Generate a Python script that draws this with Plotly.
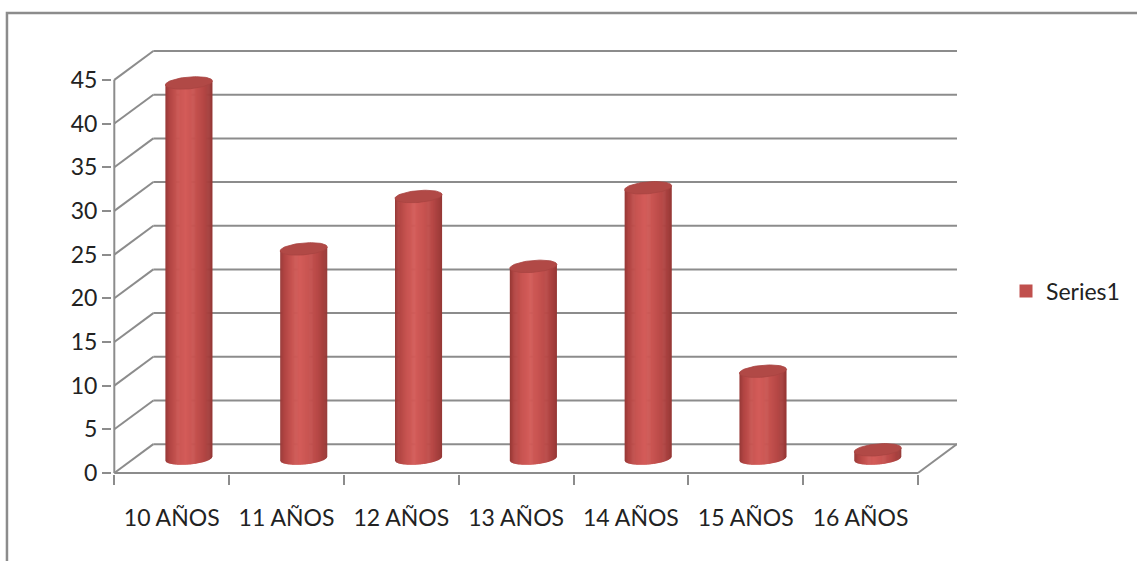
import numpy as np
import plotly.graph_objects as go

# ---- data ----
categories = ["10 AÑOS", "11 AÑOS", "12 AÑOS", "13 AÑOS", "14 AÑOS", "15 AÑOS", "16 AÑOS"]
values = [43, 24, 30, 22, 31, 10, 1]
y_ticks = [0, 5, 10, 15, 20, 25, 30, 35, 40, 45]
series_name = "Series1"

# ---- style ----
FONT = "Lato"
GRAY = "#8c8c8c"
DX, DY = 0.34, 3.30          # depth offset of back wall (x in categories, y in value units)
CDX = 0.15                   # cylinder depth shift along x
HW = 0.205                   # cylinder half width (category units)
EH = 0.68                    # ellipse half height (value units)
SH = 0.22                    # slight perspective tilt of ellipses
STOPS = [(0.0, (150, 56, 54)), (0.08, (176, 68, 66)), (0.25, (200, 84, 81)),
         (0.42, (211, 92, 89)), (0.6, (200, 84, 81)), (0.8, (183, 72, 70)),
         (0.93, (163, 62, 60)), (1.0, (148, 55, 53))]
TOP_COLOR = "#b14946"


def shade(u):
    for (u0, c0), (u1, c1) in zip(STOPS[:-1], STOPS[1:]):
        if u0 <= u <= u1:
            f = (u - u0) / (u1 - u0)
            r, g, b = [round(a + (b_ - a) * f) for a, b_ in zip(c0, c1)]
            return f"rgb({r},{g},{b})"
    return "rgb(192,80,77)"


n = len(categories)
ymax = max(y_ticks)
fig = go.Figure()
shapes = []

line = dict(color=GRAY, width=2)
# back wall gridlines and side-wall diagonals
for v in y_ticks:
    shapes.append(dict(type="line", xref="x", yref="y", layer="below",
                       x0=-0.5 + DX, x1=n - 0.5 + DX, y0=v + DY, y1=v + DY, line=line))
    shapes.append(dict(type="line", xref="x", yref="y", layer="below",
                       x0=-0.5, x1=-0.5 + DX, y0=v, y1=v + DY, line=line))
# floor right edge, front floor edge, front vertical axis
shapes.append(dict(type="line", xref="x", yref="y", layer="below",
                   x0=n - 0.5, x1=n - 0.5 + DX, y0=0, y1=DY, line=line))
shapes.append(dict(type="line", xref="x", yref="y", layer="below",
                   x0=-0.5, x1=n - 0.5, y0=0, y1=0, line=line))
shapes.append(dict(type="line", xref="x", yref="y", layer="below",
                   x0=-0.5, x1=-0.5, y0=0, y1=ymax, line=line))
# outer chart border (extends beyond the window on the right/bottom)
shapes.append(dict(type="rect", xref="paper", yref="paper", layer="below",
                   x0=-0.1243, x1=1.25, y0=-0.25, y1=1.0873,
                   line=dict(color=GRAY, width=2.5)))

# cylinders
N = 44
for i, v in enumerate(values):
    c = i + CDX
    base = DY / 2
    top = v + DY / 2

    def tilt(x, c=c):
        return SH * (x - c) / HW

    edges = np.linspace(c - HW, c + HW, N + 1)
    step = edges[1] - edges[0]
    for k in range(N):
        x_left = edges[k]
        x_right = min(edges[k + 1] + 0.6 * step, c + HW)
        xs = np.linspace(x_left, x_right, 4)
        bottom = base - EH * np.sqrt(np.clip(1 - ((xs - c) / HW) ** 2, 0, 1)) + tilt(xs)
        topy = top + tilt(xs)
        px = list(xs) + list(xs[::-1]) + [xs[0]]
        py = list(topy) + list(bottom[::-1]) + [topy[0]]
        col = shade((k + 0.5) / N)
        fig.add_trace(go.Scatter(x=px, y=py, fill="toself", fillcolor=col, mode="lines",
                                 line=dict(width=0), hoverinfo="skip",
                                 showlegend=False))
    t = np.linspace(0, 2 * np.pi, 72)
    ex = c + HW * np.cos(t)
    ey = top + EH * np.sin(t) + tilt(ex)
    fig.add_trace(go.Scatter(x=ex, y=ey, fill="toself", fillcolor=TOP_COLOR, mode="lines",
                             line=dict(width=0.8, color="#a84441"), hoverinfo="skip",
                             showlegend=False))

# legend entry
fig.add_trace(go.Scatter(x=[None], y=[None], mode="markers", name=series_name,
                         marker=dict(symbol="square", size=13, color="#c0504d")))

fig.update_layout(
    width=1137, height=561,
    margin=dict(l=112, r=180, t=50, b=87),
    paper_bgcolor="white", plot_bgcolor="white",
    font=dict(family=FONT, size=23, color="#222222"),
    shapes=shapes,
    showlegend=True,
    legend=dict(x=1.058, y=0.4316, xanchor="left", yanchor="middle",
                font=dict(family=FONT, size=23, color="#222222"),
                bgcolor="rgba(0,0,0,0)"),
    xaxis=dict(range=[-0.52, n - 0.5 + DX], tickvals=list(range(n)), ticktext=categories,
               ticks="", showgrid=False, zeroline=False, showline=False,
               ticklabelstandoff=28,
               minor=dict(tickvals=[k - 0.5 for k in range(n + 1)], ticks="outside",
                          ticklen=10, tickwidth=2, tickcolor=GRAY, showgrid=False)),
    yaxis=dict(range=[-0.12, ymax + DY + 0.12], tickvals=y_ticks, ticks="outside",
               ticklen=9, tickwidth=2, tickcolor=GRAY, showgrid=False, zeroline=False,
               showline=False),
)

fig.write_html("out.html")
